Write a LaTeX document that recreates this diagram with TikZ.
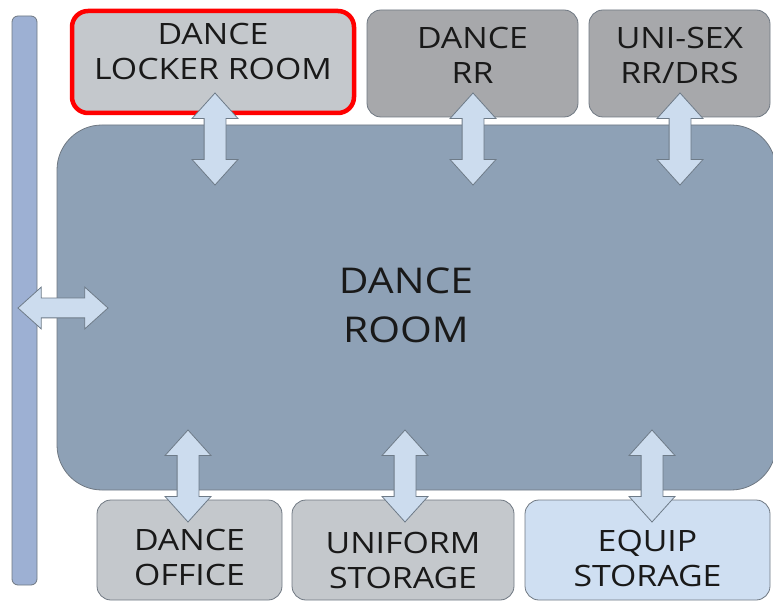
\documentclass[tikz,border=0pt]{standalone}
\usepackage{fontspec}
\setmainfont{Open Sans}[FakeStretch=1.15]
\usepackage{xcolor}
\definecolor{BarFill}{HTML}{9DB0D3}
\definecolor{RoomFill}{HTML}{8EA1B6}
\definecolor{RoomEdge}{HTML}{6F7882}
\definecolor{BoxLight}{HTML}{C4C8CC}
\definecolor{BoxDark}{HTML}{A7A8AB}
\definecolor{EquipFill}{HTML}{CFDFF2}
\definecolor{ArrowFill}{HTML}{CCDCEE}
\definecolor{ArrowEdge}{HTML}{6E7B88}
\definecolor{LockerRed}{HTML}{FF0000}
\usepackage{tikz}
\usetikzlibrary{positioning, shapes.arrows}

\begin{document}
\begin{tikzpicture}[x=1pt, y=-1pt,
  room/.style={draw=RoomEdge, line width=0.8pt, rounded corners=14pt, inner sep=0pt},
  lbl/.style={font=\fontsize{29.4}{35}\selectfont, align=center, text=black!90, inner sep=0pt, anchor=north},
  link/.style={double arrow, draw=ArrowEdge, fill=ArrowFill, line width=0.8pt,
    inner xsep=0pt, inner ysep=10.5pt, double arrow head extend=12pt,
    double arrow tip angle=84, minimum height=92pt}]
  \useasboundingbox (0,0) rectangle (773,609);

  %% corridor and main room
  \node[room, fill=BarFill, rounded corners=6pt, minimum width=25pt, minimum height=569pt]
    (corridor) at (24.5,300.5) {};
  \node[room, fill=RoomFill, rounded corners=45pt, minimum width=719pt, minimum height=365pt]
    (danceroom) at (416.5,307.5) {};
  \node[lbl, font=\fontsize{35.5}{49}\selectfont] (roomtxt) at (406,268) {DANCE\\ROOM};

  %% top row
  \node[room, fill=BoxLight, draw=LockerRed, line width=4.5pt, rounded corners=16pt,
    minimum width=282pt, minimum height=102pt] (locker) at (213,62) {};
  \node[room, fill=BoxDark, minimum width=211pt, minimum height=107pt] (dancerr) at (472.5,63.5) {};
  \node[room, fill=BoxDark, minimum width=181pt, minimum height=107pt] (unisex) at (679.5,63.5) {};

  %% bottom row
  \node[room, fill=BoxLight, minimum width=185pt, minimum height=100pt] (office) at (189.5,550) {};
  \node[room, fill=BoxLight, minimum width=222pt, minimum height=100pt] (uniform) at (403,550) {};
  \node[room, fill=EquipFill, minimum width=245pt, minimum height=100pt] (equip) at (647.5,550) {};

  %% room names
  \foreach \bx/\gap/\txt in {locker/14/{DANCE\\LOCKER ROOM}, dancerr/17/{DANCE\\RR},
      unisex/17/{UNI-SEX\\RR/DRS}, office/29/{DANCE\\OFFICE},
      uniform/32/{UNIFORM\\STORAGE}, equip/30/{EQUIP\\STORAGE}}{
    \node[lbl, below=\gap pt of \bx.north] (\bx txt) {\txt};
  }

  %% two-way links
  \foreach \name/\x/\y in {lockerlink/215/139, rrlink/473/139, unisexlink/680/139,
      officelink/188/476, uniformlink/405/476, equiplink/652/476}{
    \node[link, rotate=90] (\name) at (\x,\y) {};
  }
  \node[link, inner ysep=9.5pt, double arrow head extend=11pt, minimum height=90pt]
    (corridorlink) at (63,308) {};
\end{tikzpicture}
\end{document}
